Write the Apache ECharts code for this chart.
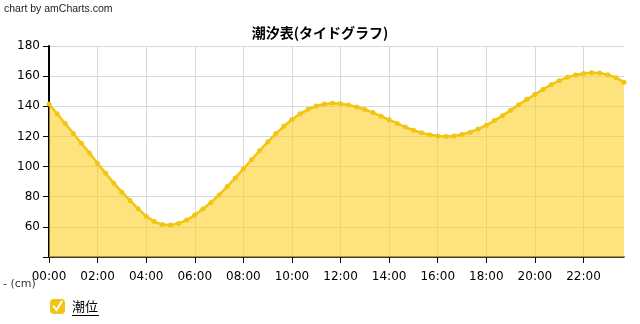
<!DOCTYPE html>
<html>
<head>
<meta charset="utf-8">
<script src="https://cdn.jsdelivr.net/npm/echarts@6/dist/echarts.min.js"></script>
<style>html,body{margin:0;padding:0;background:#fff}#c{width:640px;height:324px}</style>
</head>
<body>
<div id="c"></div>
<script>
// 20-minute steps from 00:00 to 23:40
var times = [];
for (var h = 0; h < 24; h++) { for (var m = 0; m < 60; m += 20) { times.push((h < 10 ? '0' : '') + h + ':' + (m < 10 ? '0' : '') + m); } }
var tide = [
  141.5,135,128.5,122,115.5,109,102,95.5,89,83,77.5,72,67,63.5,61.5,
  61.2,62.3,64.5,67.8,71.8,76.2,81.2,86.7,92.5,98.5,104.5,110.5,116.3,121.7,126.7,131.2,135,138,140.2,141.5,142,
  141.7,140.9,139.6,137.9,135.8,133.4,131,128.6,126.2,124.1,122.4,121.1,120.3,120,
  120.3,121.3,122.8,124.9,127.5,130.5,133.8,137.4,141,144.6,147.8,151.2,154.3,157,159.2,160.8,161.8,162.3,162.1,161,159,156
];
var seriesName = '潮位';
var titleText = '潮汐表(タイドグラフ)';
var yMin = 40, yMax = 180, yStep = 20;

var chart = echarts.init(document.getElementById('c'), null, {renderer: 'canvas'});
chart.setOption({
  animation: false,
  title: {
    text: titleText, left: 'center', top: 21,
    textStyle: {fontFamily: '"Noto Sans CJK JP"', fontSize: 14, fontWeight: 'bold', color: '#000'}
  },
  legend: {
    left: 50, top: 299, padding: 0, itemWidth: 15, itemHeight: 15, icon: 'roundRect', itemGap: 8,
    data: [seriesName],
    textStyle: {fontFamily: '"Noto Sans CJK JP"', fontSize: 13, color: '#000', padding: [0, 0, 0, 2]}
  },
  grid: {left: 49, right: 16, top: 46, bottom: 67},
  xAxis: {
    type: 'category', data: times, boundaryGap: false,
    axisLine: {lineStyle: {color: '#000', width: 1.5}},
    axisTick: {interval: 5, length: 6, lineStyle: {color: '#000'}},
    axisLabel: {interval: 5, color: '#000', fontFamily: 'DejaVu Sans', fontSize: 12, margin: 14},
    splitLine: {show: true, interval: 5, lineStyle: {color: '#d8d8d8'}}
  },
  yAxis: {
    type: 'value', min: yMin, max: yMax, interval: yStep,
    axisLine: {show: true, lineStyle: {color: '#000', width: 2}},
    axisTick: {show: true, length: 6, lineStyle: {color: '#000'}},
    axisLabel: {color: '#000', fontFamily: 'DejaVu Sans', fontSize: 12, margin: 9,
      formatter: function (v) { return v === yMin ? '' : String(v); }},
    splitLine: {lineStyle: {color: '#d8d8d8'}}
  },
  series: [{
    name: seriesName, type: 'line', data: tide,
    symbol: 'circle', symbolSize: 5, showSymbol: true,
    itemStyle: {color: '#F2C512'},
    lineStyle: {color: '#F2C512', width: 2.5},
    areaStyle: {color: 'rgb(253,206,40)', opacity: 0.6}
  }],
  graphic: [
    {type: 'text', left: 4, top: 4, style: {text: 'chart by amCharts.com', font: '10.5px "Liberation Sans"', fill: '#222'}},
    {type: 'text', left: 3, top: 279, style: {text: '- (cm)', font: '11px "DejaVu Sans"', fill: '#333'}},
    {type: 'polyline', shape: {points: [[53, 305.5], [56.5, 310], [62, 301]]}, style: {stroke: '#fff', lineWidth: 2, fill: null}, z: 100},
    {type: 'line', shape: {x1: 72, y1: 315.5, x2: 99, y2: 315.5}, style: {stroke: '#000', lineWidth: 1}, z: 100}
  ]
});
</script>
</body>
</html>
